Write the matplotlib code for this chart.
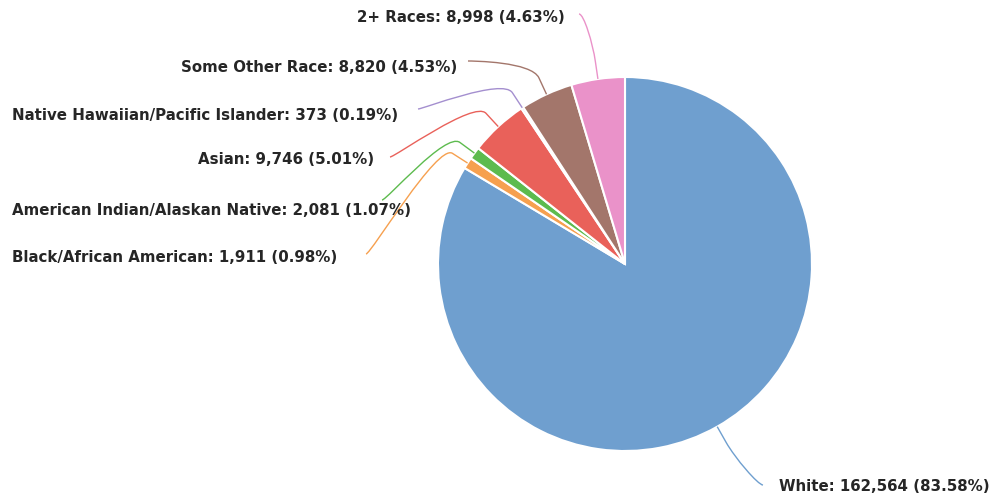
import matplotlib
matplotlib.use('Agg')
from matplotlib import pyplot as plt
from matplotlib.path import Path
from matplotlib.patches import PathPatch
import numpy as np

# population by race
races = ['White', 'Black/African American', 'American Indian/Alaskan Native',
         'Asian', 'Native Hawaiian/Pacific Islander', 'Some Other Race', '2+ Races']
counts = [162564, 1911, 2081, 9746, 373, 8820, 8998]
colors = ['#6f9fcf', '#f6a04f', '#5dbb4e', '#e9615a', '#a48fcf', '#a3766b', '#ea92c9']

# layout (pixel coords, y down): label text anchor, connector start
label_pos = [(779, 487, 'left'), (12, 258, 'left'), (12, 211, 'left'),
             (374, 160, 'right'), (12, 115, 'left'), (457, 67, 'right'),
             (565, 17, 'right')]
line_start = [(763, 486), (366, 255), (382, 201), (390, 158),
              (418, 110), (468, 62), (579, 15)]

cx, cy, R = 625, 265, 187
total = sum(counts)

fig = plt.figure(figsize=(9.92, 5.02), dpi=100)
ax = fig.add_axes([0, 0, 1, 1])
wedges, _ = ax.pie(counts, colors=colors, center=(cx, cy), radius=R,
                   startangle=-90, counterclock=True,
                   wedgeprops=dict(edgecolor='white', linewidth=1.5))
ax.set_xlim(0, 992)
ax.set_ylim(502, 0)
ax.set_aspect('auto')
ax.axis('off')

for i, w in enumerate(wedges):
    mid = np.radians((w.theta1 + w.theta2) / 2)
    tx, ty = cx + R * np.cos(mid), cy + R * np.sin(mid)
    bx, by = cx + (R + 18) * np.cos(mid), cy + (R + 18) * np.sin(mid)
    sx, sy = line_start[i]
    side = -5 if i == 0 else 5
    verts = [(sx, sy), (sx + side, sy), (2 * bx - tx, 2 * by - ty), (bx, by), (tx, ty)]
    codes = [Path.MOVETO, Path.CURVE4, Path.CURVE4, Path.CURVE4, Path.LINETO]
    ax.add_patch(PathPatch(Path(verts, codes), fill=False, edgecolor=colors[i], lw=1.0))

    pct = counts[i] / total * 100
    txt = f'{races[i]}: {counts[i]:,} ({pct:.2f}%)'
    x, y, ha = label_pos[i]
    ax.text(x, y, txt, ha=ha, va='center', fontsize=10.8, fontweight='bold',
            color='#262626', family='DejaVu Sans')

plt.savefig('out.png', dpi=100)
